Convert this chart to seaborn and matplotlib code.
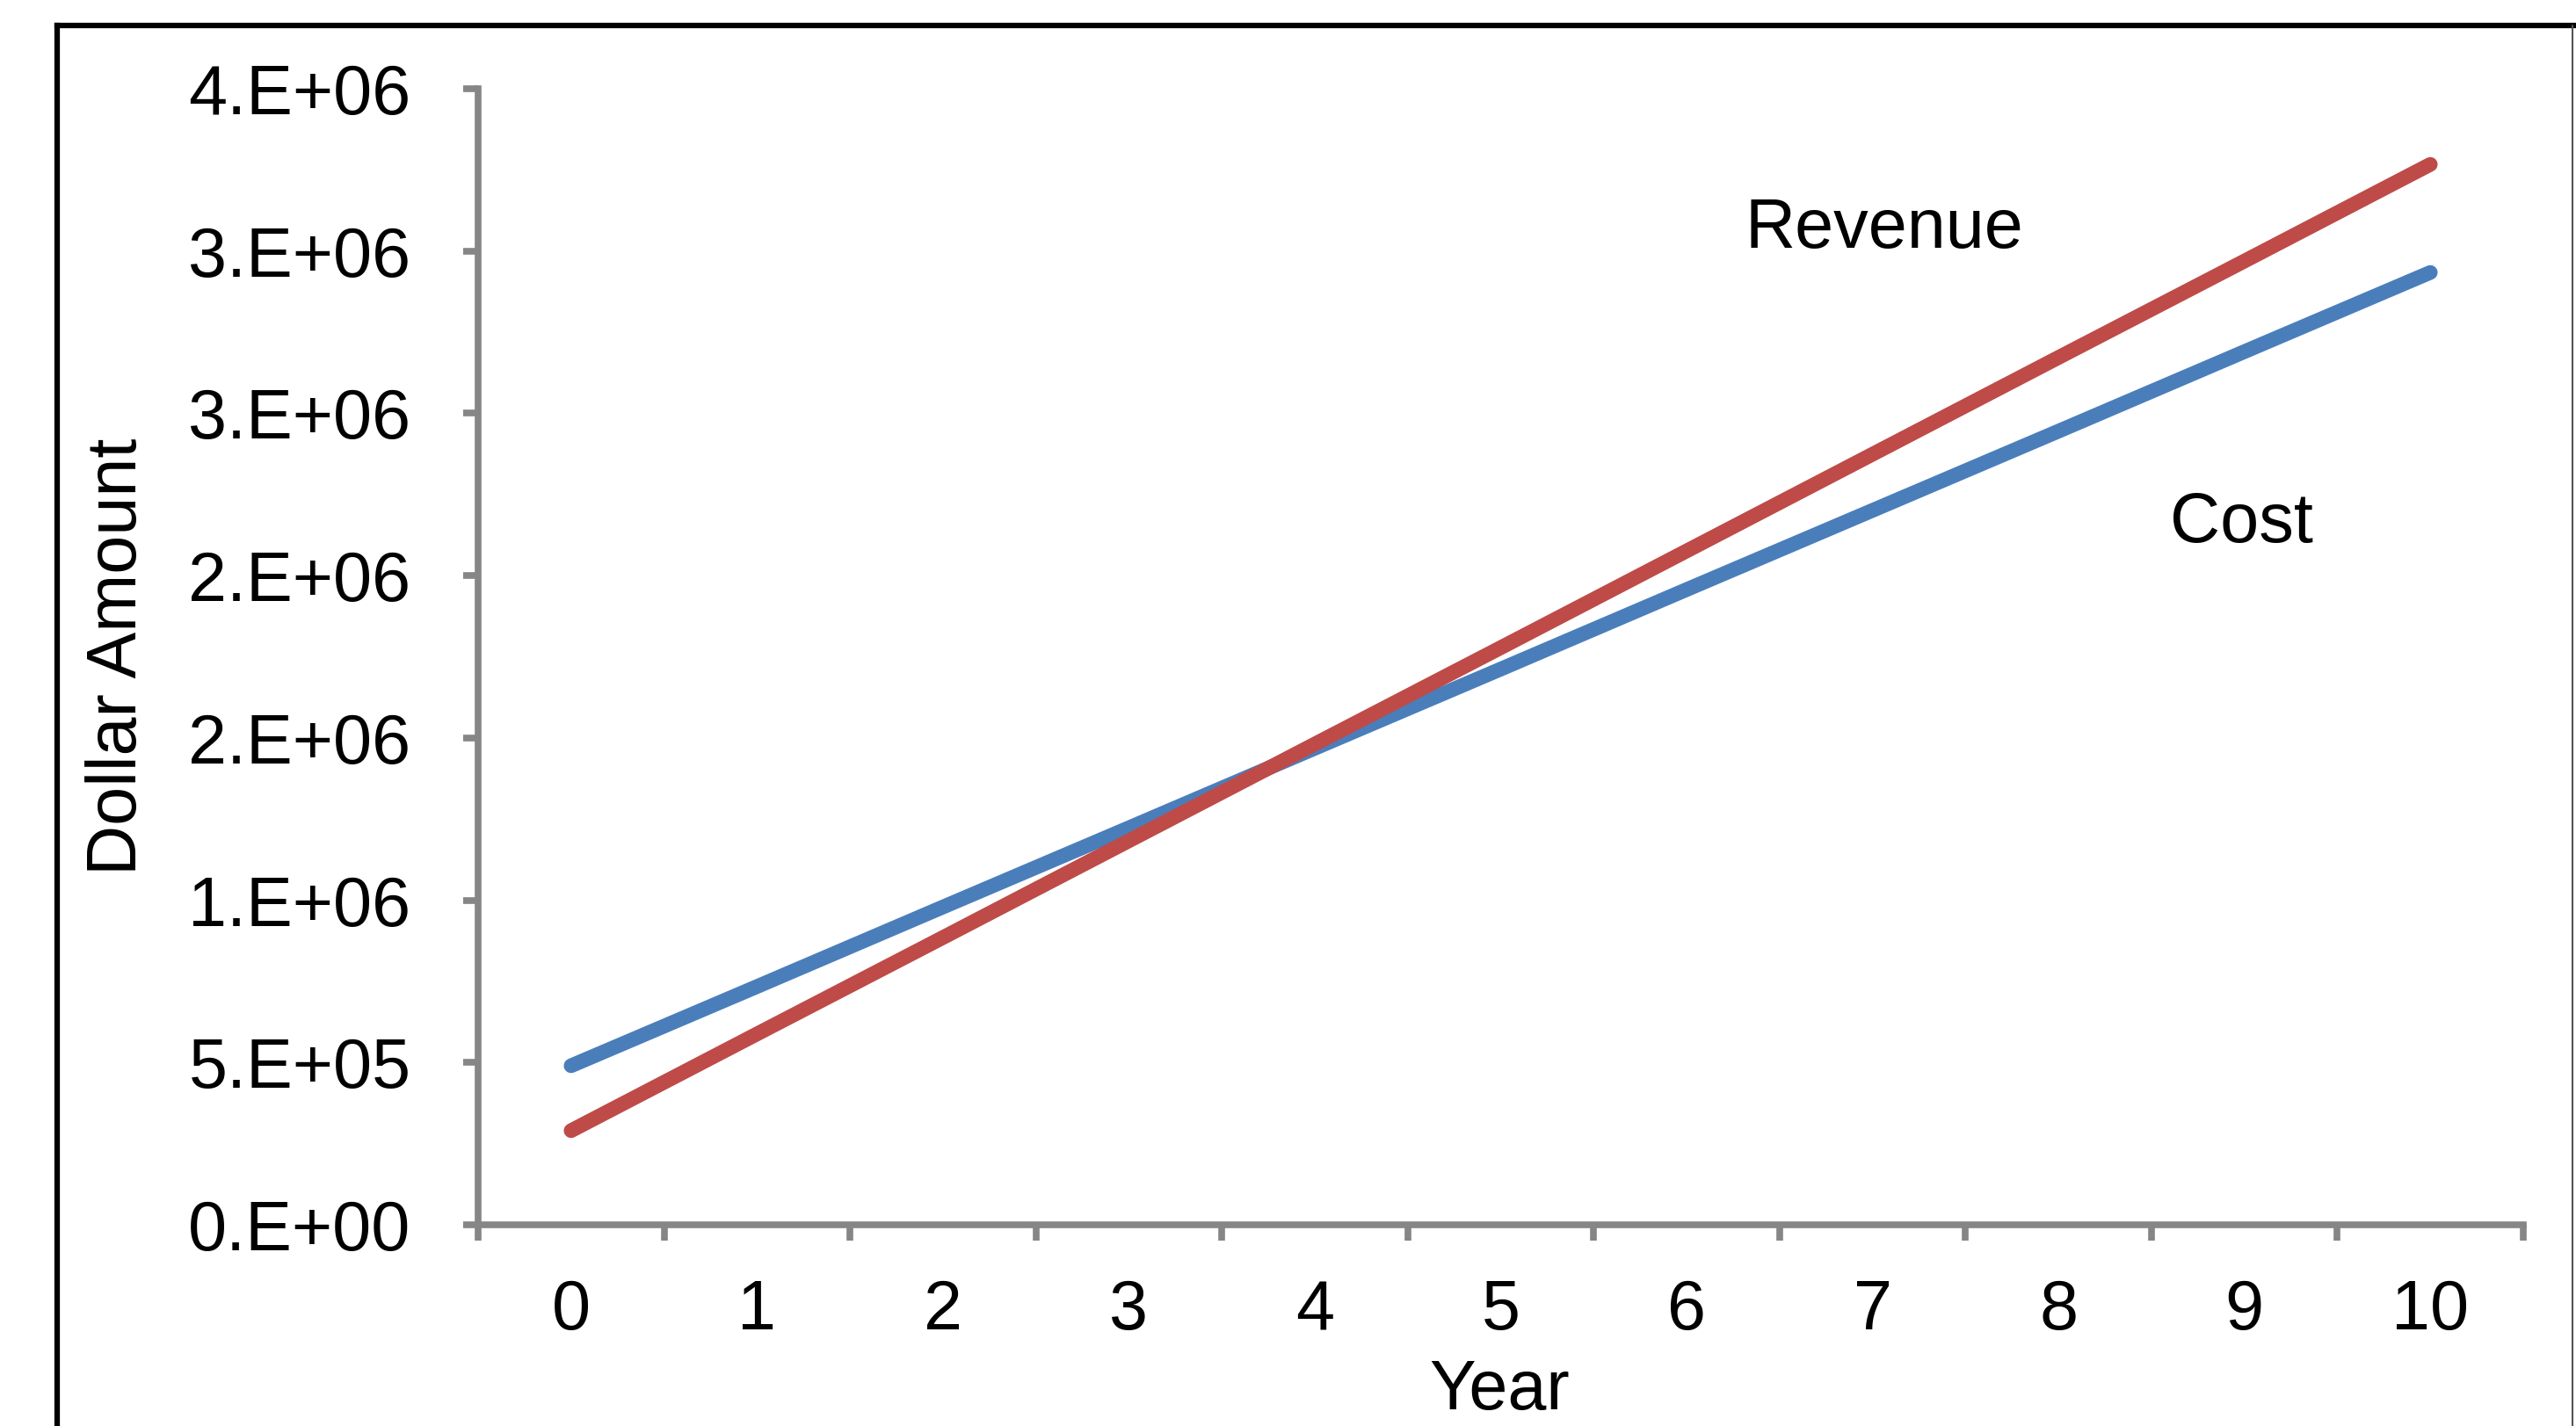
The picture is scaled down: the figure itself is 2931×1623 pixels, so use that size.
import matplotlib
matplotlib.use("Agg")
import matplotlib.pyplot as plt
import seaborn as sns
import pandas as pd
from matplotlib.lines import Line2D

# ---- data ----
years = [0, 1, 2, 3, 4, 5, 6, 7, 8, 9, 10]
cost = [490000, 734000, 979000, 1223000, 1468000, 1712000, 1957000, 2201000, 2445000, 2690000, 2934000]
revenue = [290000, 588000, 885000, 1183000, 1481000, 1778000, 2076000, 2374000, 2672000, 2969000, 3267000]
series_names = ["Cost", "Revenue"]
series_colors = {"Cost": "#4A7EBB", "Revenue": "#BE4B48"}
y_ticks = [0, 500000, 1000000, 1500000, 2000000, 2500000, 3000000, 3500000]
y_tick_labels = ["0.E+00", "5.E+05", "1.E+06", "2.E+06", "2.E+06", "3.E+06", "3.E+06", "4.E+06"]
x_label = "Year"
y_label = "Dollar Amount"

df = pd.DataFrame({
    "Year": years * 2,
    "Amount": cost + revenue,
    "Series": ["Cost"] * len(years) + ["Revenue"] * len(years),
})

sns.set_theme(style="white")
plt.rcParams["font.family"] = ["Liberation Sans", "DejaVu Sans"]

W, H = 2931, 1623
fig = plt.figure(figsize=(W / 100, H / 100), dpi=100)
fig.patch.set_facecolor("white")

ax_left, ax_right, ax_bottom, ax_top = 544, 2871, 1394, 101
ax = fig.add_axes([ax_left / W, 1 - ax_bottom / H,
                   (ax_right - ax_left) / W, (ax_bottom - ax_top) / H])

sns.lineplot(data=df, x="Year", y="Amount", hue="Series", hue_order=series_names,
             palette=series_colors, linewidth=12, ax=ax, legend=False,
             solid_capstyle="round")

ax.set_xlim(-0.5, 10.5)
ax.set_ylim(0, 3500000)

axis_gray = "#868686"
for s in ["top", "right"]:
    ax.spines[s].set_visible(False)
for s in ["left", "bottom"]:
    ax.spines[s].set_color(axis_gray)
    ax.spines[s].set_linewidth(5.5)
    ax.spines[s].set_capstyle("projecting")

ax.set_yticks(y_ticks)
ax.set_yticklabels(y_tick_labels)
ax.tick_params(axis="y", which="major", direction="out", length=12, width=5.5,
               color=axis_gray, pad=43, labelsize=57, labelcolor="black", left=True)

# category boundaries as major ticks, labels at category centres via minor ticks
ax.set_xticks([i - 0.5 for i in years] + [years[-1] + 0.5])
ax.set_xticklabels([])
ax.set_xticks(years, minor=True)
ax.set_xticklabels([str(y) for y in years], minor=True)
ax.tick_params(axis="x", which="major", direction="out", length=13, width=5.5,
               color=axis_gray, bottom=True)
ax.tick_params(axis="x", which="minor", length=0, pad=44, labelsize=57,
               labelcolor="black", bottom=True)

ax.set_xlabel("")
ax.set_ylabel("")
ax.grid(False)

for line in ax.get_lines():
    line.set_solid_capstyle("round")
    line.set_clip_on(False)

# axis titles
fig.text(135 / W, 1 - 747.5 / H, y_label, rotation=90, ha="center", va="center",
         fontsize=57, color="black")
fig.text(1706 / W, 2 / H, x_label, ha="center", va="bottom",
         fontsize=57, color="black")

# series annotations
ax.text(7.063, 3010000, "Revenue", ha="center", va="baseline", fontsize=57, color="black")
ax.text(8.987, 2103000, "Cost", ha="center", va="baseline", fontsize=57, color="black")

# outer chart border (cropped)
bx, by = 65 / W, 1 - 29 / H
fig.add_artist(Line2D([bx, 1.0], [by, by], transform=fig.transFigure,
                      color="black", linewidth=4.5, solid_capstyle="projecting"))
fig.add_artist(Line2D([bx, bx], [0.0, by], transform=fig.transFigure,
                      color="black", linewidth=4.5, solid_capstyle="projecting"))
fig.add_artist(Line2D([2927 / W, 2927 / W], [0.0, by], transform=fig.transFigure,
                      color="#555555", linewidth=1.5))

fig.savefig("out.png", dpi=100, facecolor="white")
